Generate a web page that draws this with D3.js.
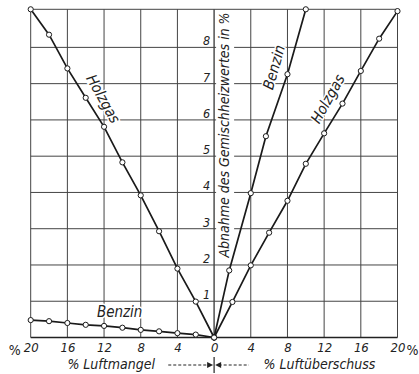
<!DOCTYPE html>
<html>
<head>
<meta charset="utf-8">
<script src="https://cdn.jsdelivr.net/npm/d3@7"></script>
<style>
body { margin: 0; background: #fff; }
svg text { font-family: "DejaVu Sans Condensed", "DejaVu Sans", sans-serif; font-style: italic; fill: #222; }
</style>
</head>
<body>
<div id="chart"></div>
<script>
// x < 0 : Luftmangel, x > 0 : Luftüberschuss (in %)
var xTicks = [-20, -16, -12, -8, -4, 0, 4, 8, 12, 16, 20];
var yTicks = [1, 2, 3, 4, 5, 6, 7, 8];

var holzgasMangelX = [0, -2, -4, -6, -8, -10, -12, -14, -16, -18, -20];
var holzgasMangelY = [0, 0.99, 1.90, 2.93, 3.92, 4.83, 5.81, 6.61, 7.42, 8.35, 9.05];

var holzgasUeberX = [0, 2, 4, 6, 8, 10, 12, 14, 16, 18, 20];
var holzgasUeberY = [0, 0.98, 1.99, 2.89, 3.77, 4.79, 5.63, 6.45, 7.35, 8.24, 9.0];

var benzinMangelX = [0, -2, -4, -6, -8, -10, -12, -14, -16, -18, -20];
var benzinMangelY = [0, 0.08, 0.12, 0.17, 0.21, 0.27, 0.32, 0.35, 0.40, 0.45, 0.48];

var benzinUeberX = [0, 1.65, 4, 5.65, 8, 10];
var benzinUeberY = [0, 1.85, 3.98, 5.55, 7.26, 9.05];

var width = 419, height = 374;
var plotLeft = 30.7, plotRight = 397.5, plotTop = 9.3, plotBottom = 337.5;

var svg = d3.select("#chart").append("svg")
    .attr("width", width)
    .attr("height", height);

var x = d3.scaleLinear().domain([-20, 20]).range([plotLeft, plotRight]);
var y = d3.scaleLinear().domain([0, 9.05]).range([plotBottom, plotTop]);

// grid
svg.append("g").selectAll("line")
    .data(xTicks)
    .enter().append("line")
    .attr("x1", function(d) { return x(d); })
    .attr("x2", function(d) { return x(d); })
    .attr("y1", y(0))
    .attr("y2", y(9.05))
    .attr("stroke", "#444")
    .attr("stroke-width", function(d) { return d == 0 ? 1.4 : 1; });

svg.append("g").selectAll("line")
    .data(yTicks.concat([9.05]))
    .enter().append("line")
    .attr("x1", x(-20))
    .attr("x2", x(20))
    .attr("y1", function(d) { return y(d); })
    .attr("y2", function(d) { return y(d); })
    .attr("stroke", "#444")
    .attr("stroke-width", 1);

svg.append("line")
    .attr("x1", x(-20)).attr("x2", x(20))
    .attr("y1", y(0)).attr("y2", y(0))
    .attr("stroke", "#222").attr("stroke-width", 1.6);

// vertical title with white background
svg.append("rect")
    .attr("x", x(0) + 2).attr("y", y(9.05) + 1)
    .attr("width", 18).attr("height", 252)
    .attr("fill", "#fff");
svg.append("text")
    .attr("transform", "translate(" + (x(0) + 10) + "," + 135 + ") rotate(-90)")
    .attr("text-anchor", "middle")
    .attr("dominant-baseline", "central")
    .style("font-size", "14px")
    .text("Abnahme des Gemischheizwertes in %");

// y labels
var yAxis = d3.axisLeft(y).tickValues(yTicks).tickSize(0).tickPadding(4).tickFormat(d3.format("d"));
var gy = svg.append("g")
    .attr("transform", "translate(" + x(0) + ",0)")
    .call(yAxis);
gy.select(".domain").remove();
gy.selectAll("text")
    .attr("dy", "-0.2em")
    .style("font-size", "12.5px")
    .style("font-family", null);

// x labels
var xAxis = d3.axisBottom(x).tickValues(xTicks).tickSize(0).tickPadding(5)
    .tickFormat(function(d) { return Math.abs(d); });
var gx = svg.append("g")
    .attr("transform", "translate(0," + y(0) + ")")
    .call(xAxis);
gx.select(".domain").remove();
gx.selectAll("text")
    .style("font-size", "13px")
    .style("font-family", null);

svg.append("text")
    .attr("x", x(-20) - 10).attr("y", y(0) + 17)
    .attr("text-anchor", "end")
    .style("font-size", "14px").style("font-style", "normal")
    .text("%");
svg.append("text")
    .attr("x", x(20) + 9).attr("y", y(0) + 17)
    .attr("text-anchor", "start")
    .style("font-size", "14px").style("font-style", "normal")
    .text("%");

// axis captions with arrows
svg.append("text")
    .attr("x", x(-16)).attr("y", 369)
    .style("font-size", "14px")
    .text("% Luftmangel");
svg.append("text")
    .attr("x", x(5.4)).attr("y", 369)
    .style("font-size", "14px")
    .text("% Luftüberschuss");

var arrowY = 365;
svg.append("line")
    .attr("x1", x(-5)).attr("x2", x(-0.5))
    .attr("y1", arrowY).attr("y2", arrowY)
    .attr("stroke", "#222").attr("stroke-width", 1)
    .attr("stroke-dasharray", "3,2");
svg.append("line")
    .attr("x1", x(0.5)).attr("x2", x(3.8))
    .attr("y1", arrowY).attr("y2", arrowY)
    .attr("stroke", "#222").attr("stroke-width", 1)
    .attr("stroke-dasharray", "3,2");
svg.append("line")
    .attr("x1", x(0)).attr("x2", x(0))
    .attr("y1", arrowY - 8).attr("y2", arrowY + 8)
    .attr("stroke", "#222").attr("stroke-width", 1.2);
svg.append("path")
    .attr("d", "M" + (x(0) - 1) + "," + arrowY + " l-6,-3 l0,6 z")
    .attr("fill", "#222");
svg.append("path")
    .attr("d", "M" + (x(0) + 1) + "," + arrowY + " l6,-3 l0,6 z")
    .attr("fill", "#222");

// curves
var series = [
    { xs: holzgasMangelX, ys: holzgasMangelY },
    { xs: holzgasUeberX, ys: holzgasUeberY },
    { xs: benzinMangelX, ys: benzinMangelY },
    { xs: benzinUeberX, ys: benzinUeberY }
];

var line = d3.line()
    .x(function(d) { return x(d[0]); })
    .y(function(d) { return y(d[1]); });

series.forEach(function(s) {
    var pts = d3.zip(s.xs, s.ys);
    svg.append("path")
        .datum(pts)
        .attr("d", line)
        .attr("fill", "none")
        .attr("stroke", "#1a1a1a")
        .attr("stroke-width", 1.7);
    svg.append("g").selectAll("circle")
        .data(pts)
        .enter().append("circle")
        .attr("cx", function(d) { return x(d[0]); })
        .attr("cy", function(d) { return y(d[1]); })
        .attr("r", 2.6)
        .attr("fill", "#fff")
        .attr("stroke", "#1a1a1a")
        .attr("stroke-width", 1);
});

// curve labels, rotated along their lines
function angleOf(xs, ys) {
    var n = xs.length - 1;
    var dx = x(xs[n]) - x(xs[0]);
    var dy = y(ys[n]) - y(ys[0]);
    var a = Math.atan2(dy, dx) * 180 / Math.PI;
    if (a > 90) a -= 180;
    if (a < -90) a += 180;
    return a;
}

var labels = [
    { text: "Holzgas", cx: -12.1, cy: 6.58, angle: angleOf(holzgasMangelX, holzgasMangelY) },
    { text: "Holzgas", cx: 12.4, cy: 6.58, angle: angleOf(holzgasUeberX, holzgasUeberY) },
    { text: "Benzin", cx: 6.55, cy: 7.45, angle: angleOf(benzinUeberX, benzinUeberY) },
    { text: "Benzin", cx: -10.3, cy: 0.7, angle: 0 }
];

labels.forEach(function(l) {
    svg.append("text")
        .attr("transform", "translate(" + x(l.cx) + "," + y(l.cy) + ") rotate(" + l.angle + ")")
        .attr("text-anchor", "middle")
        .attr("dominant-baseline", "central")
        .style("font-size", "15px")
        .style("paint-order", "stroke")
        .style("stroke", "#fff")
        .style("stroke-width", "3px")
        .text(l.text);
});
</script>
</body>
</html>
